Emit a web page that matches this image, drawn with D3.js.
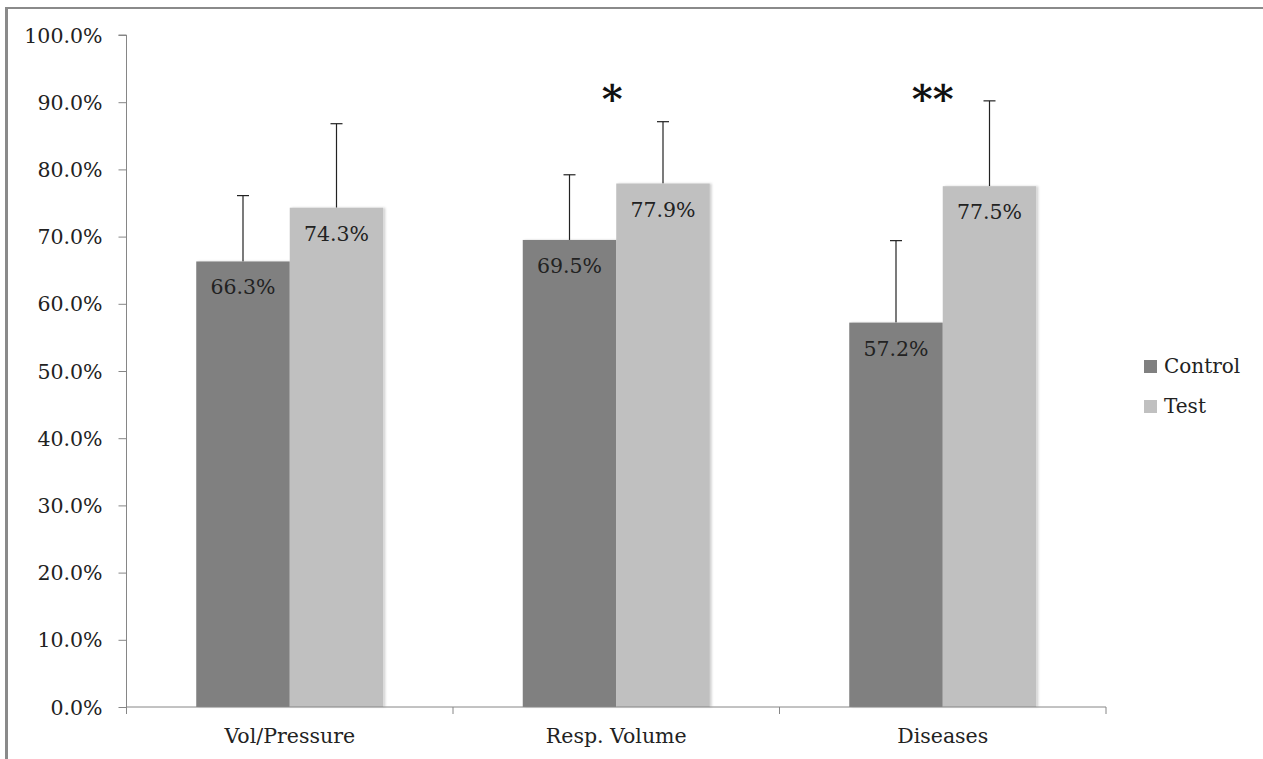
<!DOCTYPE html>
<html><head><meta charset="utf-8">
<script src="https://cdn.jsdelivr.net/npm/d3@7"></script>
<style>html,body{margin:0;padding:0;background:#fff;}svg{display:block;}</style>
</head><body>
<script>
const categories = ["Vol/Pressure", "Resp. Volume", "Diseases"];
const seriesNames = ["Control", "Test"];
const controlValues = [66.3, 69.5, 57.2];
const testValues = [74.3, 77.9, 77.5];
const controlErrUpper = [76.1, 79.2, 69.4];
const testErrUpper = [86.8, 87.1, 90.2];
const significance = ["", "*", "**"];
const yTicks = [0,10,20,30,40,50,60,70,80,90,100];

const W = 1263, H = 759;
const svg = d3.select("body").append("svg").attr("width", W).attr("height", H);
const font = "'DejaVu Serif', serif";
const colors = {Control: "#808080", Test: "#c0c0c0"};

const defs = svg.append("defs");
const f = defs.append("filter").attr("id","sh").attr("x","-10%").attr("y","-10%").attr("width","130%").attr("height","120%");
f.append("feDropShadow").attr("dx",2).attr("dy",0).attr("stdDeviation",1.2).attr("flood-color","#000").attr("flood-opacity",0.18);

// outer frame
svg.append("line").attr("x1",6.5).attr("x2",6.5).attr("y1",7).attr("y2",H).attr("stroke","#8a8a8a").attr("stroke-width",3);
svg.append("line").attr("x1",5).attr("x2",W).attr("y1",8).attr("y2",8).attr("stroke","#8a8a8a").attr("stroke-width",2);

const plotL = 126.5, plotR = 1106, plotT = 35, plotB = 707;
const x0 = d3.scaleBand().domain(categories).range([plotL, plotR]).paddingInner(0).paddingOuter(0);
const x1 = d3.scaleBand().domain(seriesNames).range([0, 187]);
const xOff = (x0.bandwidth() - 187) / 2;
const y = d3.scaleLinear().domain([0,100]).range([plotB, plotT]);

const data = categories.map((c,i)=>({cat:c, vals:[
  {s:"Control", v:controlValues[i], e:controlErrUpper[i]},
  {s:"Test", v:testValues[i], e:testErrUpper[i]}]}));

const g = svg.append("g");
const groups = g.selectAll("g.cat").data(data).join("g").attr("transform", d=>`translate(${x0(d.cat)+xOff},0)`);

groups.each(function(d){
  const gg = d3.select(this);
  d.vals.forEach(v=>{
    const cx = x1(v.s) + x1.bandwidth()/2;
    gg.append("line").attr("x1",cx).attr("x2",cx).attr("y1",y(v.v)).attr("y2",y(v.e)).attr("stroke","#222").attr("stroke-width",1.2);
    gg.append("line").attr("x1",cx-6).attr("x2",cx+6).attr("y1",y(v.e)).attr("y2",y(v.e)).attr("stroke","#222").attr("stroke-width",1.2);
  });
});

groups.selectAll("rect").data(d=>d.vals).join("rect")
  .attr("x", d=>x1(d.s)).attr("width", x1.bandwidth())
  .attr("y", d=>y(d.v)).attr("height", d=>plotB - y(d.v))
  .attr("fill", d=>colors[d.s]).attr("filter","url(#sh)");

groups.selectAll("text.val").data(d=>d.vals).join("text").attr("class","val")
  .attr("x", d=>x1(d.s)+x1.bandwidth()/2).attr("y", d=>y(d.v)+33)
  .attr("text-anchor","middle").attr("font-family",font).attr("font-size",20.5).attr("fill","#222")
  .text(d=>d.v.toFixed(1)+"%");

groups.append("text").attr("x", (d,i)=>187/2 - 6*significance[i].length + 2).attr("y", 113)
  .attr("text-anchor","middle").attr("font-family",font).attr("font-size",40).attr("font-weight","bold").attr("fill","#111")
  .text((d,i)=>significance[i]);

const yAxis = d3.axisLeft(y).tickValues(yTicks).tickSize(8).tickPadding(16).tickFormat(d=>d.toFixed(1)+"%");
const ya = svg.append("g").attr("transform",`translate(${plotL},0)`).call(yAxis);
ya.selectAll("path,line").attr("stroke","#868686");
ya.select("path").attr("d", `M-8,${plotT}H0V${plotB}`);
ya.selectAll("text").attr("font-family",font).attr("font-size",20.5).attr("fill","#222").attr("dy","0.35em");

const xAxis = d3.axisBottom(x0).tickSize(0).tickPadding(0);
const xa = svg.append("g").attr("transform",`translate(0,${plotB})`).call(xAxis);
xa.select("path").attr("stroke","#868686").attr("d",`M${plotL},0H${plotR}`);
xa.selectAll("text").attr("font-family",font).attr("font-size",20.5).attr("fill","#222").attr("y",36).attr("dy",0);
const bounds = [plotL, ...categories.map(c=>x0(c)+x0.bandwidth())];
xa.selectAll("line.b").data(bounds).join("line").attr("class","b")
  .attr("x1",d=>d).attr("x2",d=>d).attr("y1",0).attr("y2",7).attr("stroke","#868686");

const leg = svg.append("g");
seriesNames.forEach((s,i)=>{
  leg.append("rect").attr("x",1144).attr("y",360+i*40).attr("width",13).attr("height",13).attr("fill",colors[s]);
  leg.append("text").attr("x",1164).attr("y",373+i*40).attr("font-family",font).attr("font-size",20).attr("fill","#222").text(s);
});
</script>
</body></html>
